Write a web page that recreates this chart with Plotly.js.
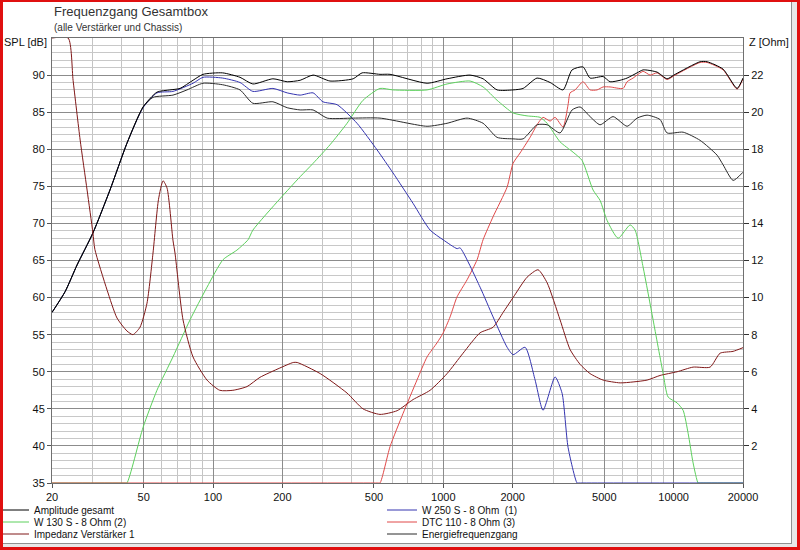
<!DOCTYPE html>
<html>
<head>
<meta charset="utf-8">
<script src="https://cdn.plot.ly/plotly-3.0.1.min.js"></script>
<style>
  html, body { margin:0; padding:0; background:#fff; }
  #wrap { position:relative; width:800px; height:550px; overflow:hidden; }
  #chart { position:absolute; left:0; top:0; width:800px; height:550px; }
  #frame { position:absolute; left:0; top:0; width:800px; height:550px; box-sizing:border-box;
           border-left:3px solid #e01010; border-top:2px solid #e01010; border-right:3px solid #e01010; border-bottom:3px solid #e01010;
           pointer-events:none; }
  #inner { position:absolute; left:3px; top:2px; right:3px; bottom:3px; box-sizing:border-box;
           border-right:5px solid #e8e8e8; border-bottom:3px solid #e8e8e8; pointer-events:none; }
  #inner2 { position:absolute; left:3px; top:2px; right:8px; bottom:6px; box-sizing:border-box;
           border-right:1px solid #909090; border-bottom:1px solid #909090; pointer-events:none; }
</style>
</head>
<body>
<div id="wrap">
  <div id="chart"></div>
  <div id="inner"></div>
  <div id="inner2"></div>
  <div id="frame"></div>
</div>
<script>
// ---- data (Hz / dB / Ohm) ----
const ampFreq = [20, 22.8, 25.7, 30.1, 35.7, 42.3, 49.7, 57.1, 65, 71.9, 81.9, 90.5, 110, 131, 149, 182, 210, 239, 272, 322, 406, 444, 531, 587, 850, 1038, 1306, 1488, 1712, 2008, 2220, 2552, 2908, 3310, 3622, 4042, 4336, 4940, 5296, 5854, 6278, 6938, 7368, 8472, 9364, 10146, 13024, 13970, 16392, 18854, 20000];
const ampSpl  = [58, 60.8, 64.4, 68.7, 74.5, 80.8, 85.7, 87.7, 88, 88.2, 89.3, 90.1, 90.3, 89.7, 88.8, 89.5, 89.1, 89.3, 90, 89.2, 89.5, 90.3, 90.1, 90.1, 88.9, 89.5, 90, 89.5, 88, 88, 88.2, 89.6, 89, 88, 90.7, 91.1, 89.6, 89.8, 89.1, 89.3, 89.6, 90.3, 90.7, 90.4, 89.5, 90.1, 91.8, 91.8, 90.8, 88.2, 89.6];

const energyFreq = [20, 22.8, 25.7, 30.1, 35.7, 42.3, 49.7, 54.9, 67, 77.1, 90.5, 110, 131, 149, 182, 210, 239, 272, 313, 406, 531, 850, 1038, 1268, 1488, 1712, 2008, 2220, 2552, 2822, 3212, 3622, 3924, 4336, 4792, 5458, 6278, 6938, 7668, 8730, 9364, 10992, 13024, 15436, 16392, 18114, 20000];
const energySpl  = [58, 60.8, 64.4, 68.7, 74.5, 80.8, 85.7, 87, 87.3, 88, 88.9, 88.7, 88, 86.2, 86.4, 85.6, 85.3, 85.3, 84.2, 84.2, 84.2, 83.1, 83.5, 84.2, 83.5, 81.6, 81.4, 81.4, 83.3, 83.3, 82.2, 85.3, 85.7, 84.4, 83.3, 84.4, 83.1, 84.2, 84.6, 84, 82.2, 82.3, 81.2, 79.2, 77.9, 75.8, 76.9];

const w250Freq = [20, 22.8, 25.7, 30.1, 35.7, 42.3, 49.7, 57.1, 67, 81.9, 90.5, 110, 131, 149, 182, 210, 239, 272, 300, 346, 422, 516, 605, 739, 876, 997, 1147, 1182, 1444, 1644, 1892, 2008, 2264, 2502, 2710, 3056, 3278, 3480, 3808, 3880, 20000];
const w250Spl  = [58, 60.8, 64.4, 68.7, 74.5, 80.8, 85.6, 87.6, 87.8, 88.9, 89.7, 89.6, 89, 87.8, 88.2, 87.6, 87.3, 87.6, 86.4, 86, 83.5, 79.9, 76.8, 72.7, 69.1, 67.8, 66.6, 66.7, 61.4, 57.4, 53.3, 52.3, 53.3, 48.9, 44.8, 49.3, 47.1, 39.8, 35, 35, 35];

const w130Freq = [20, 41.5, 42.3, 49.7, 57.1, 67, 79.5, 94.2, 110.5, 127, 142, 149, 195, 239, 272, 322, 382, 448, 531, 605, 850, 1038, 1306, 1488, 1712, 2008, 2310, 2630, 2822, 3212, 3660, 4002, 4468, 4792, 5140, 5738, 6470, 6800, 7368, 8140, 8996, 9458, 10350, 10992, 11556, 12146, 12766, 12950, 20000];
const w130Spl  = [35, 35, 35, 42.5, 47.5, 52, 57, 61.4, 65.1, 66.4, 67.8, 69.1, 73.3, 76.3, 78.1, 80.6, 83.5, 86.6, 88.2, 88, 88, 88.8, 89.2, 88.4, 86.6, 84.9, 84.5, 84.3, 83.5, 81, 79.6, 78.5, 74.5, 73.1, 70.4, 68, 69.8, 69.1, 64.1, 57, 49.8, 46.6, 45.8, 44.8, 41.7, 37.7, 35, 35, 35];

const dtcFreq = [20, 520, 531, 587, 669, 769, 850, 939, 997, 1070, 1147, 1268, 1401, 1488, 1644, 1892, 2008, 2154, 2380, 2552, 2710, 2908, 3056, 3310, 3480, 3550, 3732, 4042, 4336, 4650, 4940, 5296, 6032, 6278, 6666, 7368, 7900, 8472, 9364, 10146, 13024, 13970, 16392, 18854, 20000];
const dtcSpl  = [35, 35, 35, 39.9, 44.4, 48.9, 52, 53.9, 55.2, 57.4, 60.1, 62.4, 65.1, 67.8, 70.9, 74.9, 78.1, 79.5, 81.6, 83.3, 84.3, 83.8, 84.3, 83, 86, 87.6, 88, 89.1, 88, 88, 88.4, 88.4, 88.2, 89.1, 89.6, 90.5, 90, 90.3, 89.4, 90, 91.7, 91.7, 90.7, 88.1, 89.5];

const impFreq = [20, 23.5, 24.7, 26.5, 28.4, 30.1, 30.7, 34.7, 38.3, 42.3, 44.9, 48.2, 51.7, 54.9, 58, 60.7, 63.2, 67, 68.4, 74.1, 81.9, 94.2, 107, 122, 140.5, 160, 195, 223, 232, 292, 382, 448, 531, 630, 739, 876, 1038, 1218, 1444, 1644, 1818, 2008, 2310, 2578, 2822, 3212, 3550, 3924, 4336, 4940, 5854, 6666, 7668, 8730, 10350, 12146, 14394, 15908, 18114, 20000];
const impOhm  = [24, 24, 21.7, 18.5, 15.8, 13.5, 12.6, 10.4, 8.9, 8.2, 8.0, 8.4, 9.7, 12.4, 15.3, 16.3, 15.9, 13.1, 12.4, 8.8, 6.8, 5.55, 5.0, 5.0, 5.2, 5.7, 6.2, 6.5, 6.5, 5.9, 4.85, 4.0, 3.7, 3.9, 4.5, 5.0, 5.9, 7.0, 8.1, 8.4, 9.2, 10.0, 11.1, 11.5, 10.8, 8.8, 7.2, 6.4, 5.9, 5.55, 5.4, 5.45, 5.55, 5.8, 6.0, 6.25, 6.25, 7.0, 7.1, 7.3];

// ---- tick labels ----
const xTickVals  = [20, 50, 100, 200, 500, 1000, 2000, 5000, 10000, 20000];
const xTickText  = ['20', '50', '100', '200', '500', '1000', '2000', '5000', '10000', '20000'];
const xMinorVals = [30, 40, 60, 70, 80, 90, 300, 400, 600, 700, 800, 900, 3000, 4000, 6000, 7000, 8000, 9000];
const yTickVals  = [35, 40, 45, 50, 55, 60, 65, 70, 75, 80, 85, 90];
const zTickVals  = [2, 4, 6, 8, 10, 12, 14, 16, 18, 20, 22];

const FONT = 'Liberation Sans, Arial, sans-serif';

function tr(x, y, name, color, legend, yaxis, rank) {
  return { x: x, y: y, name: name, type: 'scatter', mode: 'lines',
           line: { color: color, width: 1, shape: 'spline', smoothing: 0.6 }, legend: legend, yaxis: yaxis || 'y',
           legendrank: rank, hoverinfo: 'skip' };
}

const traces = [
  tr(w130Freq, w130Spl, 'W 130 S - 8 Ohm (2)', '#5cd05c', 'legend2', 'y', 3),
  tr(dtcFreq, dtcSpl, 'DTC 110 - 8 Ohm (3)', '#e04848', 'legend5', 'y', 4),
  tr(w250Freq, w250Spl, 'W 250 S - 8 Ohm  (1)', '#3434b0', 'legend4', 'y', 2),
  tr(energyFreq, energySpl, 'Energiefrequenzgang', '#2a2a2a', 'legend6', 'y', 6),
  tr(ampFreq, ampSpl, 'Amplitude gesamt', '#000000', 'legend', 'y', 1),
  tr(impFreq, impOhm, 'Impedanz Verstärker 1', '#801818', 'legend3', 'y2', 5)
];

const H = 550, PL = 52, PW = 691;
function lg(xpx, ypx) {
  return { x: (xpx - PL) / PW, xref: 'paper', y: 1 - ypx / H, yref: 'container',
           xanchor: 'left', yanchor: 'middle', orientation: 'v',
           bgcolor: 'rgba(0,0,0,0)', borderwidth: 0, itemwidth: 30,
           font: { family: FONT, size: 10, color: '#111' } };
}

const layout = {
  width: 800, height: 550,
  paper_bgcolor: '#ffffff', plot_bgcolor: '#ffffff',
  margin: { l: 52, r: 57, t: 38, b: 67, autoexpand: false },
  font: { family: FONT, size: 11, color: '#111' },
  showlegend: true,
  legend:  lg(-6, 510),
  legend2: lg(-6, 522),
  legend3: lg(-6, 534),
  legend4: lg(382, 510),
  legend5: lg(382, 522),
  legend6: lg(382, 534),
  xaxis: {
    type: 'log', range: [Math.log10(20), Math.log10(20000)],
    tickmode: 'array', tickvals: xTickVals, ticktext: xTickText,
    showgrid: true, gridcolor: '#8c8c8c', gridwidth: 1,
    minor: { tickmode: 'array', tickvals: xMinorVals, showgrid: true, gridcolor: '#c4c4c4', gridwidth: 1, ticks: '' },
    ticks: 'outside', ticklen: 4, tickcolor: '#555',
    showline: true, linecolor: '#707070', linewidth: 1, mirror: true,
    zeroline: false, tickfont: { family: FONT, size: 11, color: '#111' }
  },
  yaxis: {
    range: [35, 95], tickmode: 'array', tickvals: yTickVals,
    showgrid: true, gridcolor: '#8c8c8c', gridwidth: 1,
    minor: { tickmode: 'linear', tick0: 35, dtick: 1, showgrid: true, gridcolor: '#c8c8c8', gridwidth: 1, ticks: '' },
    ticks: 'outside', ticklen: 4, tickcolor: '#555',
    showline: true, linecolor: '#707070', linewidth: 1, mirror: true,
    zeroline: false, tickfont: { family: FONT, size: 11, color: '#111' }
  },
  yaxis2: {
    overlaying: 'y', side: 'right', range: [0, 24],
    tickmode: 'array', tickvals: zTickVals,
    showgrid: false, zeroline: false,
    ticks: 'outside', ticklen: 5, tickcolor: '#333',
    showline: true, linecolor: '#707070', linewidth: 1,
    tickfont: { family: FONT, size: 11, color: '#111' }
  },
  annotations: [
    { text: 'Frequenzgang Gesamtbox', xref: 'paper', yref: 'paper', x: 0, y: (483 - 12) / 445,
      xanchor: 'left', yanchor: 'middle', showarrow: false, font: { family: FONT, size: 13, color: '#333' } },
    { text: '(alle Verstärker und Chassis)', xref: 'paper', yref: 'paper', x: 0, y: (483 - 27) / 445,
      xanchor: 'left', yanchor: 'middle', showarrow: false, font: { family: FONT, size: 10, color: '#333' } },
    { text: 'SPL [dB]', xref: 'paper', yref: 'paper', x: -3 / 691, y: (483 - 42) / 445,
      xanchor: 'right', yanchor: 'middle', showarrow: false, font: { family: FONT, size: 11, color: '#111' } },
    { text: 'Z [Ohm]', xref: 'paper', yref: 'paper', x: 1 + 4 / 691, y: (483 - 42) / 445,
      xanchor: 'left', yanchor: 'middle', showarrow: false, font: { family: FONT, size: 11, color: '#111' } }
  ]
};

Plotly.newPlot('chart', traces, layout, { staticPlot: true, displayModeBar: false });
</script>
</body>
</html>
